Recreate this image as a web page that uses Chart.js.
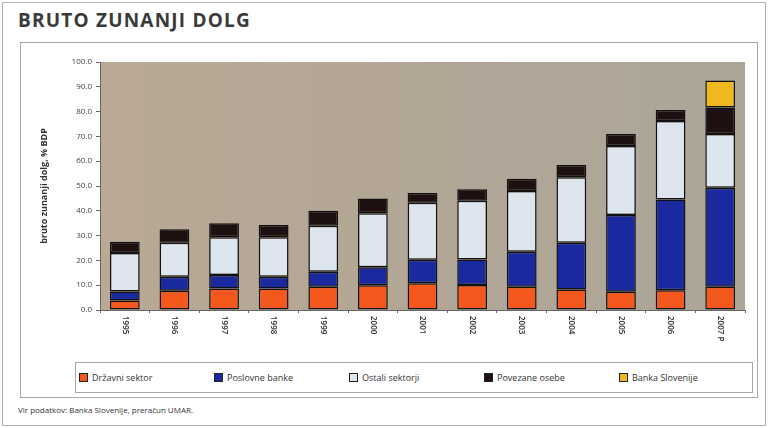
<!DOCTYPE html>
<html>
<head>
<meta charset="utf-8">
<script src="https://cdn.jsdelivr.net/npm/chart.js@4"></script>
<style>
    body { margin: 0; width: 768px; height: 428px; background: #fff; font-family: "Open Sans", sans-serif; position: relative; overflow: hidden; }
    .frame { position: absolute; left: 2px; top: 2px; right: 2px; bottom: 2px; border: 1px solid #b0b0b0; }
    .title { position: absolute; left: 18px; top: 7px; font-size: 19px; font-weight: 700; color: #3a3a3a; letter-spacing: 1.2px; }
    .panel { position: absolute; left: 20px; top: 42px; width: 736px; height: 354px; border: 1px solid #a8a8a8; }
    .chartBox { position: absolute; left: 21px; top: 43px; width: 735px; height: 315px; }
    .legend { position: absolute; left: 75px; top: 362px; width: 673px; height: 29px; border: 1px solid #a8a8a8;
              display: grid; grid-template-columns: repeat(5, 135px); padding-left: 3px; align-items: center; }
    .legend span { font-size: 9px; color: #333; display: flex; align-items: center; }
    .legend i { display: inline-block; width: 7px; height: 7px; border: 1px solid #222; margin-right: 4px; }
    .source { position: absolute; left: 18px; top: 404px; font-size: 8px; color: #333; }
</style>
</head>
<body>
<div class="frame"></div>
<div class="title">BRUTO ZUNANJI DOLG</div>
<div class="panel"></div>
<div class="chartBox"><canvas id="myChart"></canvas></div>
<div class="legend" id="legend"></div>
<div class="source">Vir podatkov: Banka Slovenije, preračun UMAR.</div>
<script>
const years = ['1995', '1996', '1997', '1998', '1999', '2000', '2001', '2002', '2003', '2004', '2005', '2006', '2007 P'];
const drzavniSektor = [3.8, 7.8, 8.7, 8.7, 9.4, 10.0, 10.8, 10.1, 9.4, 8.3, 7.4, 8.0, 9.4];
const poslovneBanke = [3.7, 5.6, 5.4, 4.7, 6.0, 7.2, 9.5, 10.3, 14.1, 18.8, 30.9, 36.6, 39.9];
const ostaliSektorji = [15.5, 13.7, 15.2, 15.9, 18.6, 21.8, 22.9, 23.7, 24.5, 26.4, 27.8, 31.6, 21.7];
const povezaneOsebe = [4.5, 5.5, 5.7, 5.0, 6.0, 6.0, 4.0, 4.6, 4.9, 5.0, 4.9, 4.4, 10.7];
const bankaSlovenije = [null, null, null, null, null, null, null, null, null, null, null, null, 10.8];

const seriesNames = ['Državni sektor', 'Poslovne banke', 'Ostali sektorji', 'Povezane osebe', 'Banka Slovenije'];
const seriesData = [drzavniSektor, poslovneBanke, ostaliSektorji, povezaneOsebe, bankaSlovenije];
const seriesColors = ['#f4581c', '#1a2a9e', '#dde6ee', '#1e1010', '#efb81e'];

// beige plot background like the scanned original
const plotBg = {
    id: 'plotBg',
    beforeDraw(chart) {
        const a = chart.chartArea, c = chart.ctx;
        const g = c.createLinearGradient(a.left, 0, a.right, 0);
        g.addColorStop(0, '#b9a995');
        g.addColorStop(0.5, '#b2a696');
        g.addColorStop(1, '#aca699');
        c.save();
        c.fillStyle = g;
        c.fillRect(a.left, a.top, a.right - a.left, a.bottom - a.top);
        c.restore();
    }
};

// x labels rotated clockwise (reading top-down)
const xLabels = {
    id: 'xLabels',
    afterDraw(chart) {
        const s = chart.scales.x, c = chart.ctx;
        c.save();
        c.font = '600 8px "Open Sans"';
        c.fillStyle = '#333';
        c.textAlign = 'left';
        c.textBaseline = 'middle';
        years.forEach((y, i) => {
            c.save();
            c.translate(s.getPixelForTick(i), s.top + 6);
            c.rotate(Math.PI / 2);
            c.fillText(y, 0, 0);
            c.restore();
        });
        c.restore();
    }
};

const ctx = document.getElementById('myChart').getContext('2d');
const myChart = new Chart(ctx, {
    type: 'bar',
    data: {
        labels: years,
        datasets: seriesNames.map((name, i) => ({
            label: name,
            data: seriesData[i],
            backgroundColor: seriesColors[i],
            borderColor: '#111',
            borderWidth: 1.5,
            borderSkipped: false,
            categoryPercentage: 1,
            barPercentage: 0.6
        }))
    },
    options: {
        responsive: true,
        maintainAspectRatio: false,
        animation: false,
        layout: { padding: { left: 14, right: 11, top: 19, bottom: 0 } },
        plugins: { legend: { display: false }, tooltip: { enabled: false } },
        scales: {
            x: {
                stacked: true,
                grid: { drawOnChartArea: false, tickLength: 3, color: '#666' },
                border: { color: '#666' },
                ticks: { color: 'transparent', minRotation: 90, maxRotation: 90, font: { size: 8 } },
                afterFit(scale) { scale.height = 48; }
            },
            y: {
                stacked: true,
                min: 0,
                max: 100,
                grid: { drawOnChartArea: false, tickLength: 4, color: '#666' },
                border: { color: '#666' },
                ticks: {
                    stepSize: 10,
                    padding: 4,
                    color: '#444',
                    font: { size: 8, family: '"Open Sans"' },
                    callback: v => v.toFixed(1)
                },
                title: {
                    display: true,
                    text: 'bruto zunanji dolg, % BDP',
                    color: '#333',
                    font: { size: 9, weight: 'bold', family: '"Open Sans"' }
                },
                afterFit(scale) { scale.width = 65; }
            }
        }
    },
    plugins: [plotBg, xLabels]
});

// legend built from the same series
const legend = document.getElementById('legend');
seriesNames.forEach((name, i) => {
    const item = document.createElement('span');
    item.innerHTML = '<i style="background:' + seriesColors[i] + '"></i>' + name;
    legend.appendChild(item);
});
</script>
</body>
</html>
